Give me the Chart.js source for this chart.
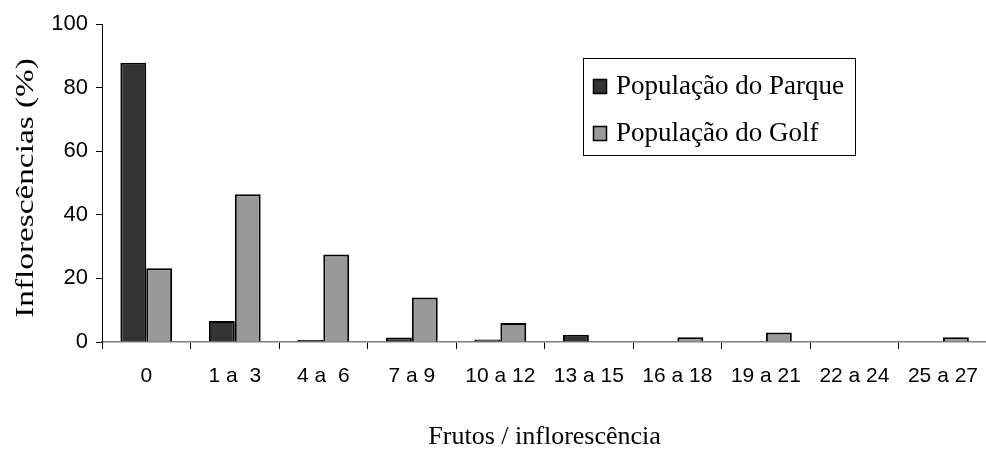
<!DOCTYPE html>
<html><head><meta charset="utf-8">
<script src="https://cdn.jsdelivr.net/npm/chart.js@4.4.1/dist/chart.umd.min.js"></script>
<style>html,body{margin:0;padding:0;background:#fff;overflow:hidden}#wrap{width:986px;height:450px;overflow:hidden}</style>
</head><body><div id="wrap"><canvas id="c" width="993" height="450"></canvas></div>
<script>
const categories = ["0","1 a  3","4 a  6","7 a 9","10 a 12","13 a 15","16 a 18","19 a 21","22 a 24","25 a 27"];
const parque = [87.8, 6.6, 0.6, 1.4, 0.8, 2.3, 0, 0, 0, 0];
const golf = [23.2, 46.5, 27.5, 14, 6, 0, 1.5, 3, 0, 1.5];
const seriesNames = ["População do Parque","População do Golf"];
const yTicks = [0,20,40,60,80,100];
const yTitle = "Inflorescências (%)";
const xTitle = "Frutos / inflorescência";

const extras = {
  id:'extras',
  afterDraw(chart){
    const ctx = chart.ctx;
    ctx.save();
    ctx.save();
    ctx.translate(26,188);
    ctx.rotate(-Math.PI/2);
    ctx.scale(1.28,1);
    ctx.font='26px "Liberation Serif", "Times New Roman", serif';
    ctx.fillStyle='#000';ctx.textAlign='center';ctx.textBaseline='middle';
    ctx.fillText(yTitle,0,0);
    ctx.restore();
    const x0=583.5, y0=58.5, w=272, h=97;
    ctx.strokeStyle='#000'; ctx.lineWidth=1;
    ctx.strokeRect(x0,y0,w,h);
    ctx.font='27px "Liberation Serif", "Times New Roman", serif';
    ctx.textBaseline='middle';
    chart.data.datasets.forEach((ds,i)=>{
      const cy = 86 + i*47;
      ctx.fillStyle=ds.backgroundColor;
      ctx.fillRect(593,cy-7,14,15);
      ctx.strokeStyle='#000'; ctx.lineWidth=1.5;
      ctx.strokeRect(593.5,cy-6.5,13,14);
      ctx.fillStyle='#000';
      ctx.fillText(ds.label,616,cy+1);
    });
    ctx.restore();
  }
};

new Chart(document.getElementById('c'),{
  type:'bar',
  data:{labels:categories,datasets:[
    {label:seriesNames[0],data:parque,backgroundColor:'#333333',borderColor:'#000',borderWidth:2,borderSkipped:'bottom',categoryPercentage:0.585,barPercentage:1},
    {label:seriesNames[1],data:golf,backgroundColor:'#999999',borderColor:'#000',borderWidth:2,borderSkipped:'bottom',categoryPercentage:0.585,barPercentage:1}
  ]},
  options:{
    responsive:false,animation:false,
    layout:{padding:{top:24,right:0,left:0,bottom:0}},
    plugins:{legend:{display:false},tooltip:{enabled:false}},
    scales:{
      x:{
        grid:{display:true,drawOnChartArea:false,drawTicks:true,tickLength:7,color:'#000',offset:true},
        border:{display:true,color:'#808080',width:1.5},
        ticks:{color:'#000',font:{family:'"Liberation Sans", Arial, sans-serif',size:21},maxRotation:0,autoSkip:false,padding:15},
        title:{display:true,text:xTitle,color:'#000',font:{family:'"Liberation Serif", "Times New Roman", serif',size:26,lineHeight:1},padding:{top:28,bottom:0}},
        afterFit(s){s.height=108;}
      },
      y:{
        min:0,max:100,
        afterBuildTicks(s){s.ticks=yTicks.map(v=>({value:v}));},
        grid:{display:true,drawOnChartArea:false,drawTicks:true,tickLength:6,color:'#000'},
        border:{display:true,color:'#000',width:1},
        ticks:{color:'#000',font:{family:'"Liberation Sans", Arial, sans-serif',size:22},padding:8},
        title:{display:false},
        afterFit(s){s.width=102;}
      }
    }
  },
  plugins:[extras]
});
</script></body></html>
